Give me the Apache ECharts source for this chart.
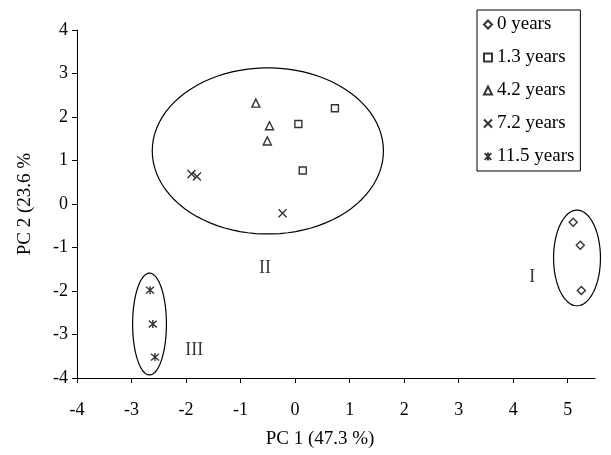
<!DOCTYPE html>
<html>
<head>
<meta charset="utf-8">
<script src="https://cdn.jsdelivr.net/npm/echarts@6/dist/echarts.min.js"></script>
<style>
  html, body { margin: 0; padding: 0; background: #fff; }
  #pca-scatter { width: 611px; height: 455px; }
</style>
</head>
<body>
<div id="pca-scatter"></div>
<script>
// sample groups (PC1, PC2)
var groupNames = ["0 years", "1.3 years", "4.2 years", "7.2 years", "11.5 years"];
var years0 = [[5.10, -0.42], [5.23, -0.95], [5.25, -1.99]];
var years13 = [[0.73, 2.20], [0.06, 1.84], [0.14, 0.77]];
var years42 = [[-0.72, 2.32], [-0.47, 1.80], [-0.51, 1.45]];
var years72 = [[-1.90, 0.69], [-1.80, 0.63], [-0.23, -0.21]];
var years115 = [[-2.66, -1.98], [-2.61, -2.76], [-2.57, -3.52]];

// cluster ellipses: center and radii in data units
var clusterNames = ["I", "II", "III"];
var clusterCenters = [[5.17, -1.24], [-0.50, 1.22], [-2.67, -2.76]];
var clusterRadii = [[0.43, 1.10], [2.12, 1.91], [0.31, 1.17]];
var clusterLabelPos = [[4.35, -1.69], [-0.55, -1.47], [-1.85, -3.36]];

var xTicks = [-4, -3, -2, -1, 0, 1, 2, 3, 4, 5];

var serif = '"Liberation Serif", "Times New Roman", serif';

var symbols = [
  "diamond",
  "rect",
  "triangle",
  "path://M0,0L10,10M10,0L0,10",
  "path://M0,0L10,10M10,0L0,10M5,-1L5,11"
];
var sizes = [8, 7, 8, 8, 8];
var groups = [years0, years13, years42, years72, years115];

var chart = echarts.init(document.getElementById("pca-scatter"));

var series = groups.map(function (pts, i) {
  return {
    name: groupNames[i],
    type: "scatter",
    data: pts,
    symbol: symbols[i],
    symbolSize: sizes[i],
    itemStyle: {
      color: "rgba(0,0,0,0)",
      borderColor: "#000",
      borderWidth: 1.4
    },
    z: 3
  };
});

// ellipses drawn through the axes' scales
series.push({
  type: "custom",
  name: "clusters",
  silent: true,
  data: clusterCenters.map(function (c, i) {
    return [c[0], c[1], clusterRadii[i][0], clusterRadii[i][1]];
  }),
  renderItem: function (params, api) {
    var cx = api.value(0), cy = api.value(1);
    var rx = api.value(2), ry = api.value(3);
    var pts = [];
    for (var k = 0; k < 90; k++) {
      var t = k / 90 * Math.PI * 2;
      pts.push(api.coord([cx + rx * Math.cos(t), cy + ry * Math.sin(t)]));
    }
    return {
      type: "polygon",
      shape: { points: pts, smooth: 0 },
      style: { fill: "none", stroke: "#000", lineWidth: 1.2 }
    };
  },
  z: 2
});

series.push({
  type: "scatter",
  name: "clusterLabels",
  silent: true,
  symbolSize: 0,
  data: clusterLabelPos.map(function (p, i) {
    return { value: p, name: clusterNames[i] };
  }),
  label: {
    show: true,
    position: "inside",
    formatter: "{b}",
    color: "#000",
    fontFamily: serif,
    fontSize: 18
  }
});

var option = {
  animation: false,
  backgroundColor: "#fff",
  grid: {
    left: 77,
    right: 16,
    top: 30,
    bottom: 77,
    outerBoundsMode: "none"
  },
  legend: {
    data: groupNames,
    orient: "vertical",
    left: 477,
    top: 10,
    padding: [5, 6, 5, 6],
    itemGap: 14,
    itemWidth: 8,
    itemHeight: 8,
    borderColor: "#000",
    borderWidth: 1,
    selectedMode: false,
    textStyle: {
      color: "#000",
      fontFamily: serif,
      fontSize: 19
    }
  },
  xAxis: {
    type: "value",
    min: -4,
    max: 5.5,
    interval: 1,
    name: "PC 1 (47.3 %)",
    nameLocation: "middle",
    nameGap: 52,
    nameTextStyle: {
      color: "#000",
      fontFamily: serif,
      fontSize: 19,
      padding: [0, 32, 0, 0]
    },
    splitLine: { show: false },
    axisLine: { onZero: false, lineStyle: { color: "#000", width: 1 } },
    axisTick: { show: true, length: 5, customValues: xTicks, lineStyle: { color: "#000" } },
    axisLabel: {
      customValues: xTicks,
      margin: 23,
      color: "#000",
      fontFamily: serif,
      fontSize: 18,
      formatter: function (v) {
        return Math.round(v) === v ? String(v) : "";
      }
    }
  },
  yAxis: {
    type: "value",
    min: -4,
    max: 4,
    interval: 1,
    name: "PC 2 (23.6 %",
    nameLocation: "middle",
    nameGap: 42,
    nameTextStyle: {
      color: "#000",
      fontFamily: serif,
      fontSize: 19
    },
    splitLine: { show: false },
    axisLine: { onZero: false, lineStyle: { color: "#000", width: 1 } },
    axisTick: { show: true, length: 5, lineStyle: { color: "#000" } },
    axisLabel: {
      margin: 9,
      color: "#000",
      fontFamily: serif,
      fontSize: 18
    }
  },
  series: series
};

chart.setOption(option);
window.addEventListener("resize", function () {
  chart.resize();
});
</script>
</body>
</html>
